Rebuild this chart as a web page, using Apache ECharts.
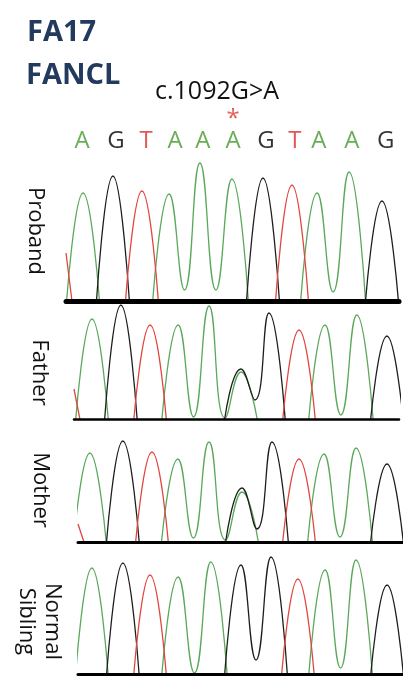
<!DOCTYPE html>
<html>
<head>
<meta charset="utf-8">
<script src="https://cdn.jsdelivr.net/npm/echarts@6/dist/echarts.min.js"></script>
<style>
  html, body { margin: 0; padding: 0; background: #fff; }
  #main { width: 403px; height: 677px; }
</style>
</head>
<body>
<div id="main"></div>
<script>
// base calls printed above the traces
var bases = ['A', 'G', 'T', 'A', 'A', 'A', 'G', 'T', 'A', 'A', 'G'];
var callPos = [0.97, 2.10, 3.11, 4.08, 5.01, 6.02, 7.12, 8.09, 8.89, 9.99, 11.13];
var mutationIndex = 5;
var mutationLabel = 'c.1092G>A';
var sampleId = 'FA17';
var geneName = 'FANCL';

var panelNames = ['Proband', 'Father', 'Mother', 'Normal\nSibling'];

// peak positions (in base units) and peak heights per dye channel
var probandPos = [1, 2.00, 2.97, 3.88, 4.91, 5.98, 7.02, 7.99, 8.83, 9.90, 11.0];
var probandA = [108, 0, 0, 107, 138, 122, 0, 0, 108, 129, 0];
var probandG = [0, 125, 0, 0, 0, 0, 123, 0, 0, 0, 100];
var probandT = [0, 0, 110, 0, 0, 0, 0, 116, 0, 0, 0];
var probandValley = [0, 0, 0, 11, 11, 0, 0, 0, 9, 0];
var probandLead = [0, 0, 48];

var fatherPos = [1, 1.98, 2.97, 3.92, 4.97, 6.05, 7.0, 8.02, 8.9, 9.98, 11.0];
var fatherA = [100, 0, 0, 94, 113, 47, 0, 0, 94, 104, 0];
var fatherG = [0, 114, 0, 0, 0, 50, 106, 0, 0, 0, 83];
var fatherT = [0, 0, 94, 0, 0, 0, 0, 89, 0, 0, 0];
var fatherValley = [0, 0, 0, 2, 1, 19, 0, 0, 4, 0];
var fatherLead = [0, 0, 30];

var motherPos = [1, 2.11, 3.09, 3.96, 5.01, 6.12, 7.13, 8.04, 8.88, 9.96, 11.0];
var motherA = [89, 0, 0, 83, 100, 50, 0, 0, 88, 94, 0];
var motherG = [0, 101, 0, 0, 0, 54, 100, 0, 0, 0, 78];
var motherT = [0, 0, 90, 0, 0, 0, 0, 83, 0, 0, 0];
var motherValley = [0, 0, 0, 4, 2, 13, 0, 0, 5, 0];
var motherLead = [0, 0, 18];

var siblingPos = [1, 2.05, 2.97, 3.92, 5.03, 6.05, 7.07, 7.98, 8.9, 9.95, 11.0];
var siblingA = [106, 0, 0, 97, 112, 0, 0, 0, 104, 114, 0];
var siblingG = [0, 111, 0, 0, 0, 109, 117, 0, 0, 0, 89];
var siblingT = [0, 0, 99, 0, 0, 0, 0, 95, 0, 0, 0];
var siblingValley = [0, 0, 0, 1, 0, 14, 0, 0, 6, 0];
var siblingLead = [0, 0, 0];

var panelData = [
    { pos: probandPos, A: probandA, G: probandG, T: probandT, valley: probandValley, lead: probandLead },
    { pos: fatherPos, A: fatherA, G: fatherG, T: fatherT, valley: fatherValley, lead: fatherLead },
    { pos: motherPos, A: motherA, G: motherG, T: motherT, valley: motherValley, lead: motherLead },
    { pos: siblingPos, A: siblingA, G: siblingG, T: siblingT, valley: siblingValley, lead: siblingLead }
];

// layout of each panel (pixels) and its x range
var panelLayout = [
    { left: 66, right: 4, top: 161, bottom: 376, xMin: 0.43, xMax: 11.57, yMax: 140, base: 5, gap: 18, shift: 0 },
    { left: 74, right: 4, top: 304, bottom: 258, xMin: 0.39, xMax: 11.41, yMax: 115, base: 2.5, gap: 22, shift: 22 },
    { left: 78, right: 0, top: 438, bottom: 135, xMin: 0.60, xMax: 11.54, yMax: 104, base: 3, gap: 25, shift: 0 },
    { left: 78, right: 0, top: 555, bottom: 3, xMin: 0.53, xMax: 11.54, yMax: 119, base: 3, gap: 13, shift: 14 }
];

var channels = ['A', 'G', 'T'];
var traceColor = { A: '#5aa85a', G: '#1e1e1e', T: '#e0463e' };
var letterColor = { A: '#44982a', G: '#000000', T: '#d9302a' };
var halfWidth = 0.55;
var font = '"Open Sans", "Liberation Sans", sans-serif';

// turn peak list of one channel into trace points
function buildTrace(d, ch, xMin) {
    var h = d[ch];
    var pts = [];
    var leadIdx = channels.indexOf(ch);
    if (d.lead[leadIdx] > 0) {
        pts.push([xMin, d.lead[leadIdx]]);
        pts.push([xMin + 0.2, 0]);
        pts.push([xMin + 0.2, '-']);
    }
    for (var i = 0; i < h.length; i++) {
        if (h[i] <= 0) continue;
        if (i > 0 && h[i - 1] > 0) {
            pts.push([(d.pos[i - 1] + d.pos[i]) / 2, d.valley[i - 1]]);
        } else {
            if (pts.length) pts.push([d.pos[i] - halfWidth, '-']);
            pts.push([d.pos[i] - halfWidth, 0]);
        }
        pts.push([d.pos[i], h[i]]);
        if (i === h.length - 1 || h[i + 1] <= 0) {
            pts.push([d.pos[i] + halfWidth, 0]);
        }
    }
    return pts;
}

var grids = [], xAxes = [], yAxes = [], series = [];

// grid 0: base calls row
grids.push({ left: 66, right: 4, top: 100, bottom: 517, outerBoundsMode: 'none' });
xAxes.push({ type: 'value', gridIndex: 0, min: 0.43, max: 11.57, show: false });
yAxes.push({ type: 'value', gridIndex: 0, min: 0, max: 60, show: false });

var callData = bases.map(function (b, i) {
    return { name: b, value: [callPos[i], 19], label: { color: letterColor[b] } };
});
series.push({
    type: 'scatter', xAxisIndex: 0, yAxisIndex: 0, symbolSize: 0, silent: true,
    data: callData,
    label: { show: true, position: 'inside', formatter: '{b}', fontSize: 24, fontFamily: font }
});
series.push({
    type: 'scatter', xAxisIndex: 0, yAxisIndex: 0, symbolSize: 0, silent: true,
    data: [{ name: '*', value: [callPos[mutationIndex], 41] }],
    label: { show: true, position: 'inside', formatter: '{b}', fontSize: 24, color: '#d8362c', fontFamily: font }
});

panelLayout.forEach(function (L, p) {
    var gi = p + 1;
    grids.push({ left: L.left, right: L.right, top: L.top, bottom: L.bottom, outerBoundsMode: 'none' });
    xAxes.push({
        type: 'value', gridIndex: gi, min: L.xMin, max: L.xMax, z: 10,
        axisLine: { show: true, onZero: true, lineStyle: { color: '#000', width: L.base } },
        axisTick: { show: false }, axisLabel: { show: false }, splitLine: { show: false }
    });
    yAxes.push({
        type: 'value', gridIndex: gi, min: 0, max: L.yMax,
        axisLine: { show: false }, axisTick: { show: false }, axisLabel: { show: false }, splitLine: { show: false },
        name: panelNames[p], nameLocation: 'middle', nameRotate: -90, nameGap: L.gap,
        nameTextStyle: { fontSize: 22, color: '#111', fontFamily: font, lineHeight: 26, padding: [0, 0, 0, L.shift] }
    });
    channels.forEach(function (ch) {
        series.push({
            type: 'line', xAxisIndex: gi, yAxisIndex: gi,
            data: buildTrace(panelData[p], ch, L.xMin),
            smooth: 0.5, symbol: 'none', silent: true, connectNulls: false,
            lineStyle: { color: traceColor[ch], width: 1.3 }
        });
    });
});

var myChart = echarts.init(document.getElementById('main'));
myChart.setOption({
    animation: false,
    backgroundColor: '#fff',
    grid: grids,
    xAxis: xAxes,
    yAxis: yAxes,
    series: series,
    graphic: [
        { type: 'text', x: 27, y: 33, style: { text: sampleId, fontSize: 29, fontWeight: 'bold', fontFamily: font, fill: '#233a5f', verticalAlign: 'middle' } },
        { type: 'text', x: 26, y: 76, style: { text: geneName, fontSize: 29, fontWeight: 'bold', fontFamily: font, fill: '#233a5f', verticalAlign: 'middle' } },
        { type: 'text', x: 217, y: 92, style: { text: mutationLabel, fontSize: 25, fontFamily: font, fill: '#111', align: 'center', verticalAlign: 'middle' } }
    ]
});
</script>
</body>
</html>
